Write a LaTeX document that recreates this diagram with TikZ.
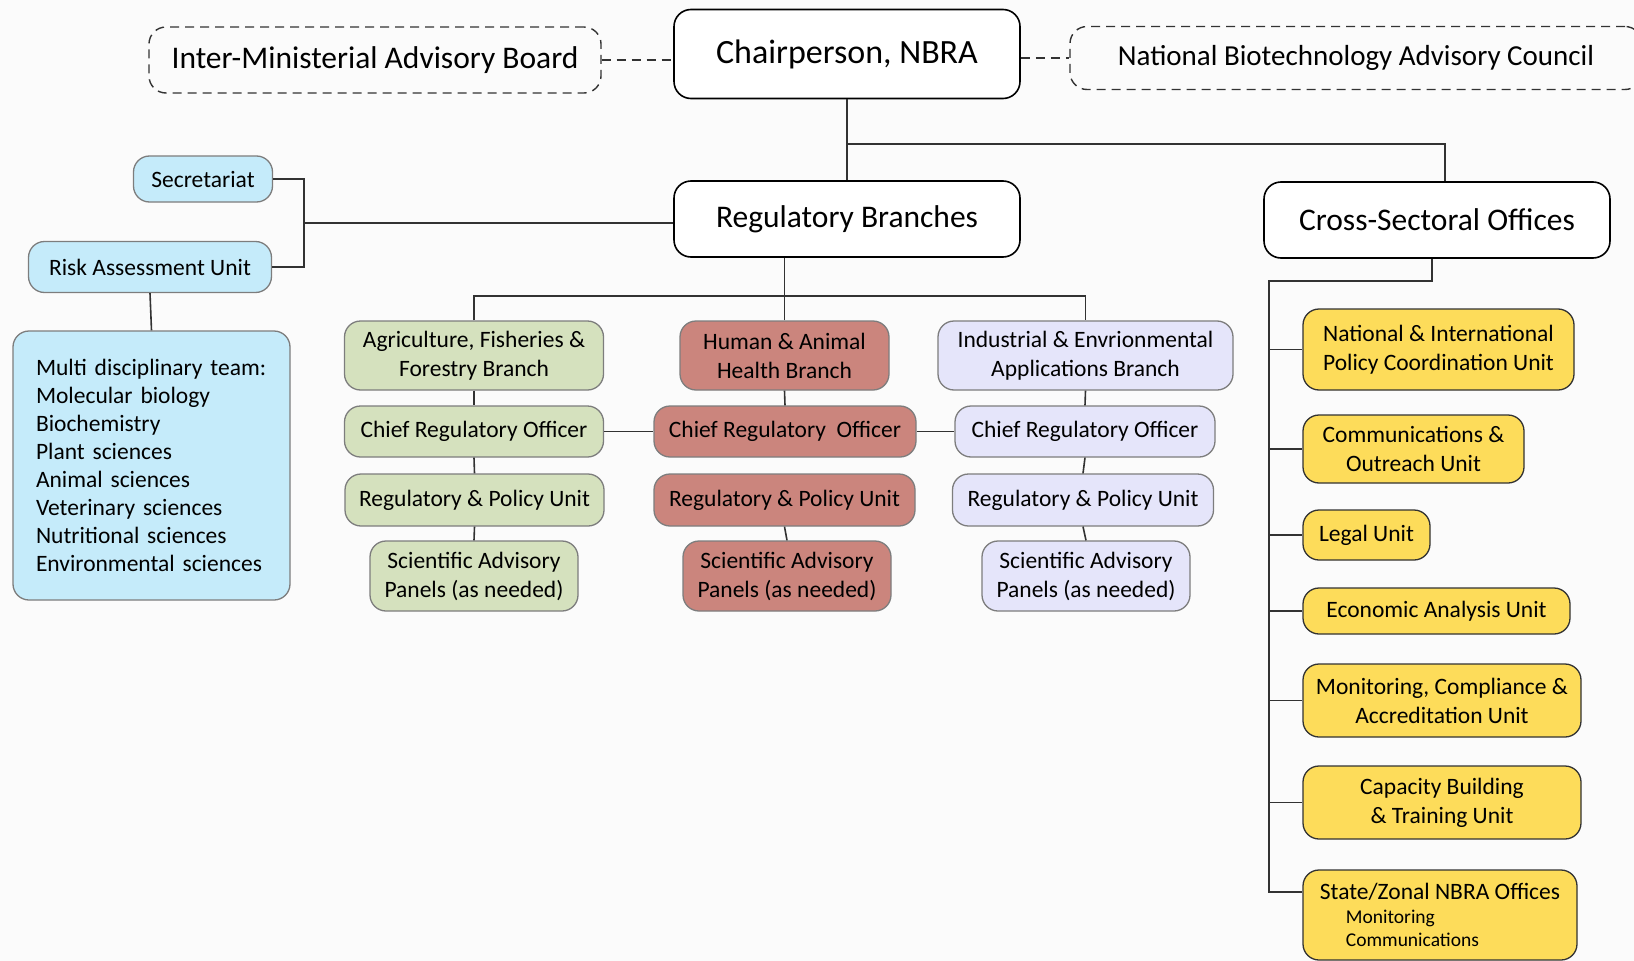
\documentclass[tikz,border=0pt]{standalone}
\usepackage{fontspec}
\setmainfont{Carlito}
\definecolor{bgcol}{RGB}{251,251,251}
\definecolor{bluefill}{RGB}{197,235,250}
\definecolor{greenfill}{RGB}{213,225,190}
\definecolor{redfill}{RGB}{203,133,125}
\definecolor{lavfill}{RGB}{229,229,250}
\definecolor{yellowfill}{RGB}{253,220,90}
\definecolor{edgegray}{RGB}{125,125,125}
\definecolor{linecol}{RGB}{50,50,50}

\begin{document}
\begin{tikzpicture}[x=1pt, y=-1pt,
    every node/.style={inner xsep=4pt, inner ysep=2pt, align=center},
    bigfont/.style={font=\fontsize{31.5}{36}\selectfont},
    midfont/.style={font=\fontsize{23.5}{29}\selectfont},
    topbox/.style={draw=black, line width=1.6pt, fill=white, rounded corners=17pt, bigfont},
    dashbox/.style={draw=black!80, line width=1.4pt, dash pattern=on 9pt off 6pt, rounded corners=17pt, bigfont},
    unitbox/.style={draw=edgegray, line width=1.3pt, rounded corners=16pt, midfont},
    bluebox/.style={unitbox, fill=bluefill},
    greenbox/.style={unitbox, fill=greenfill},
    redbox/.style={unitbox, fill=redfill},
    lavbox/.style={unitbox, fill=lavfill},
    yellowbox/.style={unitbox, draw=linecol, fill=yellowfill},
    conn/.style={draw=linecol, line width=1.6pt},
    dconn/.style={conn, dash pattern=on 9pt off 6pt}]

    \fill[bgcol] (0,0) rectangle (1634,961);
    \useasboundingbox (0,0) rectangle (1634,961);

    % top row
    \node[dashbox, minimum width=452pt, minimum height=66pt] (imab) at (375,60) {Inter-Ministerial Advisory Board};
    \node[topbox, minimum width=346pt, minimum height=89pt, font=\fontsize{34}{38}\selectfont] (chair) at (847,54) {Chairperson, NBRA};
    \node[dashbox, minimum width=572pt, minimum height=63pt, font=\fontsize{29}{34}\selectfont] (nbac) at (1356,58) {National Biotechnology Advisory Council};

    \node[topbox, minimum width=346pt, minimum height=76pt] (rb) at (847,219) {Regulatory Branches};
    \node[topbox, minimum width=346pt, minimum height=76pt] (cso) at (1437,220) {Cross-Sectoral Offices};

    % left side
    \node[bluebox, minimum width=139pt, minimum height=46pt] (sec) at (203,179) {Secretariat};
    \node[bluebox, minimum width=243pt, minimum height=51pt] (rau) at (150,267) {Risk Assessment Unit};
    \node[bluebox, text width=231pt, inner xsep=23pt, minimum height=269pt, align=left,
          font=\fontsize{23.5}{28}\selectfont] (team) at (151.5,465.5)
        {Multi disciplinary team:\\Molecular biology\\Biochemistry\\Plant sciences\\Animal sciences\\Veterinary sciences\\Nutritional sciences\\Environmental sciences};

    % branches
    \node[greenbox, minimum width=259pt, minimum height=69pt] (agri) at (474,355.5) {Agriculture, Fisheries \&\\Forestry Branch};
    \node[redbox, minimum width=209pt, minimum height=69pt] (human) at (784.5,355.5) {Human \& Animal\\Health Branch};
    \node[lavbox, minimum width=295pt, minimum height=69pt] (ind) at (1085.5,355.5) {Industrial \& Envrionmental\\Applications Branch};

    \node[greenbox, minimum width=259pt, minimum height=51pt] (croA) at (474,431.5) {Chief Regulatory Officer};
    \node[redbox, minimum width=262pt, minimum height=51pt] (croH) at (785,431.5) {Chief Regulatory\ \ Officer};
    \node[lavbox, minimum width=260pt, minimum height=51pt] (croI) at (1085,431.5) {Chief Regulatory Officer};

    \node[greenbox, minimum width=259pt, minimum height=52pt] (rpA) at (474.5,500) {Regulatory \& Policy Unit};
    \node[redbox, minimum width=261pt, minimum height=52pt] (rpH) at (784.5,500) {Regulatory \& Policy Unit};
    \node[lavbox, minimum width=261pt, minimum height=52pt] (rpI) at (1083,500) {Regulatory \& Policy Unit};

    \node[greenbox, minimum width=208pt, minimum height=70pt] (sapA) at (474,576) {Scientific Advisory\\Panels (as needed)};
    \node[redbox, minimum width=208pt, minimum height=70pt] (sapH) at (787,576) {Scientific Advisory\\Panels (as needed)};
    \node[lavbox, minimum width=208pt, minimum height=70pt] (sapI) at (1086,576) {Scientific Advisory\\Panels (as needed)};

    % cross-sectoral units
    \node[yellowbox, minimum width=271pt, minimum height=81pt] (y1) at (1438.5,349.5) {National \& International\\Policy Coordination Unit};
    \node[yellowbox, minimum width=221pt, minimum height=68pt] (y2) at (1413.5,449) {Communications \&\\Outreach Unit};
    \node[yellowbox, minimum width=127pt, minimum height=50pt] (y3) at (1366.5,535) {Legal Unit};
    \node[yellowbox, minimum width=267pt, minimum height=46pt] (y4) at (1436.5,611) {Economic Analysis Unit};
    \node[yellowbox, minimum width=278pt, minimum height=73pt] (y5) at (1442,700.5) {Monitoring, Compliance \&\\Accreditation Unit};
    \node[yellowbox, minimum width=278pt, minimum height=73pt] (y6) at (1442,802.5) {Capacity Building\\\& Training Unit};
    \node[yellowbox, minimum width=274pt, minimum height=90pt, align=left] (y7) at (1440,915)
        {State/Zonal NBRA Offices\\[-5pt]{\fontsize{19.5}{24}\selectfont\hspace*{26pt}Monitoring}\\[-6pt]{\fontsize{19.5}{24}\selectfont\hspace*{26pt}Communications}};

    % connectors
    \draw[dconn] (imab.east) -- (imab.east -| chair.west);
    \draw[dconn] (chair.east |- nbac.west) -- (nbac.west);
    \draw[conn] (chair.south) -- (rb.north);
    \coordinate (split) at (847,144);
    \draw[conn] (split) -| ([xshift=8pt]cso.north);

    \coordinate (brk) at (304,223);
    \draw[conn] (sec.east) -| (brk |- rau.east) -- (rau.east);
    \draw[conn] (brk) -- (brk -| rb.west);
    \draw[conn] (rau.south) -- (team.north);

    \coordinate (bus) at (784.5,296);
    \draw[conn] (human.north) -- (human.north |- rb.south);
    \draw[conn] (agri.north) |- (bus) -| (ind.north);
    \draw[conn] (agri.south) -- (croA.north);
    \draw[conn] (croA.south) -- (rpA.north);
    \draw[conn] (rpA.south) -- (sapA.north);
    \draw[conn] (human.south) -- (croH.north);
    \draw[conn] (rpH.south) -- (sapH.north);
    \draw[conn] (ind.south) -- (croI.north);
    \draw[conn] (croI.south) -- (rpI.north);
    \draw[conn] (rpI.south) -- (sapI.north);
    \draw[conn] (croA.east) -- (croH.west);
    \draw[conn] (croH.east) -- (croI.west);

    \coordinate (spine) at (1269,281);
    \coordinate (spineend) at (1269,892);
    \draw[conn] ([xshift=-5pt]cso.south) |- (spine) -- (spineend) -- (spineend -| y7.west);
    \foreach \u in {y1,y2,y3,y4,y5,y6}
        \draw[conn] (spine |- \u.west) -- (\u.west);
\end{tikzpicture}
\end{document}
